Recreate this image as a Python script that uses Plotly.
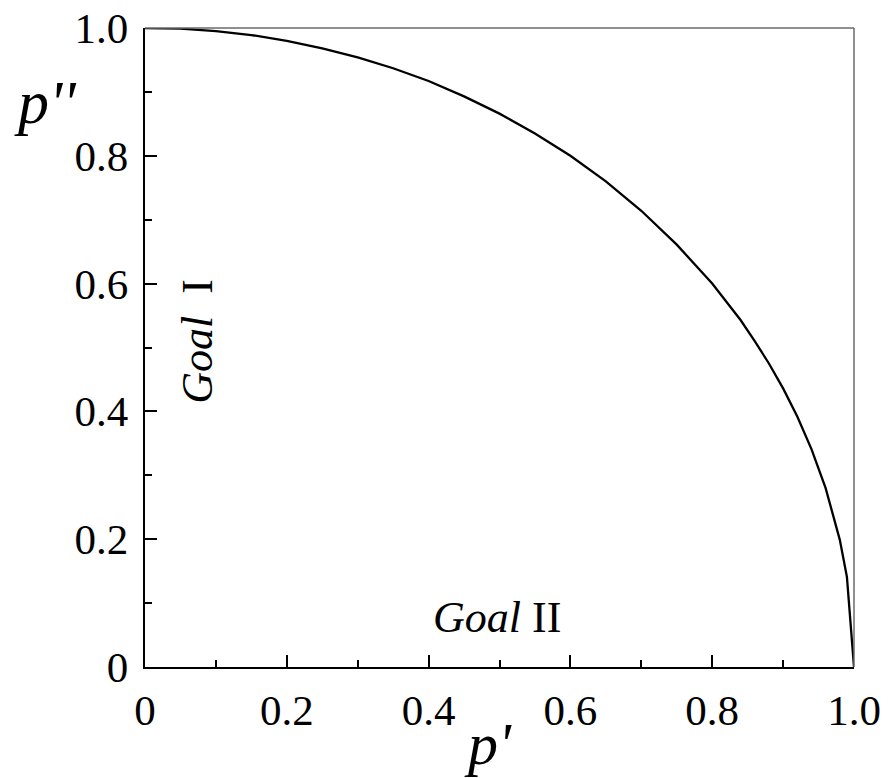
import plotly.graph_objects as go

# Data
p_prime = [0.00, 0.05, 0.10, 0.15, 0.20, 0.25, 0.30, 0.35, 0.40, 0.45, 0.50,
           0.55, 0.60, 0.65, 0.70, 0.75, 0.80, 0.82, 0.84, 0.86, 0.88, 0.90,
           0.92, 0.94, 0.96, 0.98, 0.99, 1.00]
p_double = [1.000, 0.999, 0.995, 0.989, 0.980, 0.968, 0.954, 0.937, 0.917, 0.893, 0.866,
            0.835, 0.800, 0.760, 0.714, 0.661, 0.600, 0.572, 0.543, 0.510, 0.475, 0.436,
            0.392, 0.341, 0.280, 0.199, 0.141, 0.000]

tick_vals = [0, 0.2, 0.4, 0.6, 0.8, 1.0]
tick_text = ["0", "0.2", "0.4", "0.6", "0.8", "1.0"]

FONT = "Liberation Serif"

fig = go.Figure()
fig.add_trace(go.Scatter(x=p_prime, y=p_double, mode="lines",
                         line=dict(color="black", width=2.3), showlegend=False))

axis_common = dict(
    range=[0, 1], tickvals=tick_vals, ticktext=tick_text,
    ticks="inside", ticklen=12, tickwidth=2, tickcolor="black",
    showline=True, linecolor="black", linewidth=2.2, mirror=False,
    showgrid=False, zeroline=False, automargin=False, ticklabeloverflow="allow",
    tickfont=dict(family=FONT, size=43, color="black"),
    minor=dict(dtick=0.1, ticks="inside", ticklen=7, tickwidth=2, tickcolor="black"),
)
fig.update_xaxes(**axis_common, ticklabelstandoff=4)
fig.update_yaxes(**axis_common, ticklabelstandoff=6)

# top and right frame lines (gray)
fig.add_shape(type="line", xref="x domain", yref="y domain", x0=0, x1=1, y0=1, y1=1,
              line=dict(color="#6a6a6a", width=1.5))
fig.add_shape(type="line", xref="x domain", yref="y domain", x0=1, x1=1, y0=0, y1=1,
              line=dict(color="#6a6a6a", width=1.5))

# axis titles
fig.add_annotation(text="<i>p''</i>", xref="paper", yref="paper", x=-0.141, y=0.884,
                   showarrow=False, xanchor="center", yanchor="middle",
                   font=dict(family=FONT, size=62, color="black"))
fig.add_annotation(text="<i>p'</i>", xref="paper", yref="paper", x=0.484, y=-0.121,
                   showarrow=False, xanchor="center", yanchor="middle",
                   font=dict(family=FONT, size=60, color="black"))

# region labels
fig.add_annotation(text="<i>Goal</i> II", x=0.497, y=0.078, showarrow=False,
                   xanchor="center", yanchor="middle",
                   font=dict(family=FONT, size=44, color="black"))
fig.add_annotation(text="<i>Goal</i>  I", x=0.073, y=0.51, showarrow=False, textangle=-90,
                   xanchor="center", yanchor="middle",
                   font=dict(family=FONT, size=44, color="black"))

# page body has an 8px margin, so the figure is placed at (8, 8)
fig.update_layout(
    width=872, height=770,
    margin=dict(l=137, r=26, t=20, b=111),
    plot_bgcolor="white", paper_bgcolor="white",
)

fig.write_html("out.html")
